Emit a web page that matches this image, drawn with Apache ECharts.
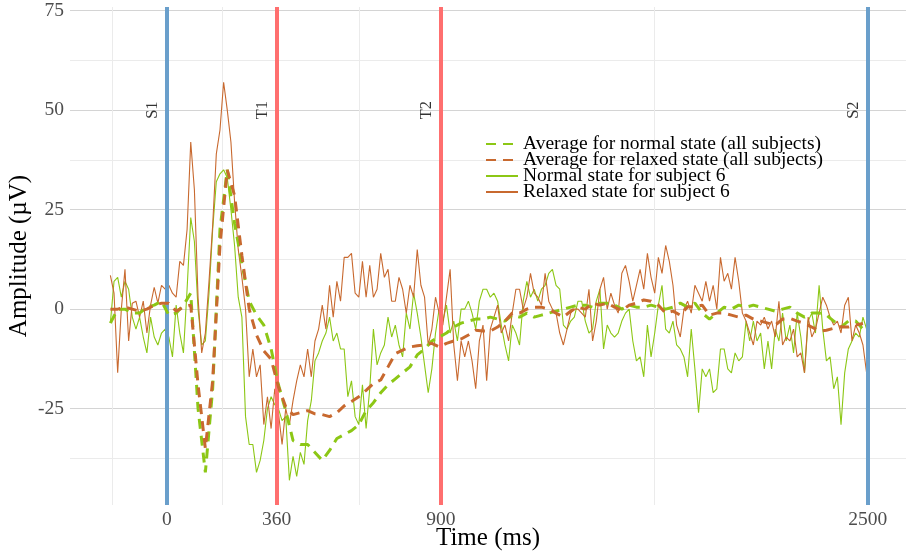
<!DOCTYPE html>
<html><head><meta charset="utf-8">
<script src="https://cdn.jsdelivr.net/npm/echarts@6/dist/echarts.min.js"></script>
<style>html,body{margin:0;padding:0;background:#fff}#c{width:906px;height:553px}</style>
</head><body><div id="c"></div>
<script>
const FONT = '"Liberation Serif", "DejaVu Serif", serif';

const seriesNames = [
  'Average for normal state (all subjects)',
  'Average for relaxed state (all subjects)',
  'Normal state for subject 6',
  'Relaxed state for subject 6'
];
const greenColor = '#8cc715';
const orangeColor = '#c8692f';

const xTickValues = [0, 360, 900, 2302];
const xTickLabels = ['0', '360', '900', '2500'];
const xMinorValues = [-180, 180, 630, 1601];
const yMajorValues = [-25, 0, 25, 50, 75];
const yMinorValues = [-37.5, -12.5, 12.5, 37.5, 62.5];

const eventNames = ['S1', 'T1', 'T2', 'S2'];
const eventTimes = [0, 360, 900, 2302];
const eventColors = ['#6a9fcb', '#ff6f6f', '#ff6f6f', '#6a9fcb'];
const eventLabelAmp = [50, 50, 50, 50];

// sampling of the traces (aligned time axis)
const rawStart = -186, rawStep = 12;
const avgStart = -186, avgStep = 24;

const normalSubj6 = [
-3.5, 7, 8, 3, 7, 5, -2, -5, -2, -7,
-11, -2, -7, -9, -6, -5, -7, -12, 1, -6,
-11, 5, 23, 17, 0, -9, -8, 4, 20, 32,
34, 35, 33, 25, 16, 3, -2, -27, -34, -34,
-41, -38, -33, -25, -22, -24, -25, -28, -27, -43,
-37, -42, -36, -39, -28, -23, -13, -11, -8, -6,
-2, -8, -6, -10, -10, -22, -18, -27, -29, -19,
-30, -20, -5, -14, -11, -9, -2, -7, -4, -9,
-12, -1, -5, 4, -1, -7, -14, -21, -15, -6,
0, -3, 1, -6, -3, -8, 0, 0, 2, -1,
-5, 2, 5, 5, 3, 4, 2, -4, -9, -13,
-4, -6, -9, 2, 7, 3, 5, 2, 5, 6,
9, 10, 6, 5, -4, -5, -3, -2, 2, 2,
-3, -6, -5, 2, 5, -10, -4, -6, -7, -6,
-3, -1, 0, -8, -13, -12, -17, -4, -12, -6,
1, 6, -5, -6, -3, -9, -10, -12, -17, -5,
-15, -26, -15, -17, -15, -21, -20, -10, -10, -15,
-16, -11, -13, -12, -3, -8, -3, -8, -6, -15,
-8, -15, -5, -8, -1, -8, -4, -11, -1, -7,
-16, -3, -1, -6, 6, -5, -13, -12, -20, -17,
-29, -16, -10, -8, -6, -7, -2, -5
];

const relaxedSubj6 = [
8.5, 4, -16, 0, 10, -8, 1.5, 2, -2, 2,
-6, 1, 5.5, 1.5, 6, 5, 6, 4, 3, 12,
11, 20, 42, 30, 3, -11, -6, 7, 21, 39,
45, 57, 50, 42, 27, 15, 8, 0, -17, -10,
-17, -14, -29, -22, -30, -20, -26, -34, -25, -29,
-23, -18, -14, -17, -10, -17, -8, -5, 1, -5,
6, -2, 7, 2, 13, 13, 14, 4, 3, 12,
3, 11, 3, 5, 14, 8, 10, 2, 2, 8,
5, -1, 6, 3, 15, 6, 3, -9, -5, 3,
-1, -4, 3, 10, -9, -18, -8, -12, -8, -13,
-20, -8, -4, -18, -5, -2, 1, -6, -4, -8,
-1, 5, 5, 0, 3, 9, 4, 3, 1, 9,
2, 0, -1, -6, -9, -5, -1, 0, 0, -1,
-2, 5, -8, -3, 5, 8, 0, 4, 1, -1,
9, 11, 7, 2, 6, 10, 5, 14, 8, 4,
13, 9, 16, 12, 6, -4, -7, 0, 2, -1,
6, 4, 2, 7, 2, 6, 0, 13, 7, 9,
5, 13, 7, -1, -3, -6, -9, -3, -4, -2,
-5, -3, -7, 2, -9, -7, -8, -5, -12, -11,
-16, -2, -7, -5, -1, 3, 1, -2, -4, -3,
-6, 1, 3, -8, -4, -6, -9, -16
];

const avgNormal = [
-3.5, 0, 0, -1, -1, 0.5, 1, 2, -1.5, -1,
1, 4, -25, -41, -20, 20, 35, 21.5, 11.5, 2,
-1.5, -4, -10, -19, -25.5, -33, -34, -34, -36, -38,
-35.5, -32.5, -31.5, -30.5, -29, -25.5, -23.5, -21, -19, -17.5,
-16, -14.5, -11.5, -10, -8, -7, -6, -4.5, -3.5, -3,
-2.5, -2.5, -2, -2.5, -3, -1.5, -2, -1, -2, -1.5,
-1, -0.5, 0, 0.5, 1, 1, 0.5, 1.5, 1.5, 1,
0, 1, 0.5, 0.5, 1, 0.5, 0, 0.5, 1.5, 0.5,
1.5, -1, -2.5, -1, 0.5, 0, 1, 0.5, 1, 0.5,
0, -0.5, 0, 0.5, -1, -2, -1, -1, -1.5, -3,
-4.5, -3, -3, -5
];

const avgRelaxed = [
0, 0, 0.5, 0, -0.5, 0, 1, 1.5, 1.5, -0.5,
0.5, 1, -19, -35, -18, 16, 35, 28.5, 13.5, 0,
-6.5, -10.5, -12.6, -19.5, -24.5, -26.5, -26, -25.5, -26.3, -26.5,
-27, -26, -24.3, -23.2, -22, -20.4, -18.7, -17.8, -14.5, -11.2,
-10.3, -9.5, -9.2, -9, -8.6, -9.5, -8.6, -8, -7.5, -6.5,
-5.3, -5.5, -5.5, -4.5, -3, -1, -1, 0, 0.5, 0.5,
0, -1, -2, -0.5, 0.5, 0, 1.5, 1, 1.5, 0.5,
-0.3, 1, 1.5, 2.3, 2, 1, -1, -0.5, -1.5, 0.6,
0.6, 1, -1.5, -1, -1, -1.5, -2, -1.5, -2.5, -3,
-3.5, -4, -2.5, -2.3, -3, -3.6, -4.5, -5.5, -5.3, -4.8,
-4.4, -4.5, -4, -3.6
];

const toPairs = (arr, start, step) => arr.map((v, i) => [start + i * step, v]);

const xMin = -318.6, xMax = 2427.4;
const yMin = -49.2, yMax = 75.9;

const chart = echarts.init(document.getElementById('c'), null, { renderer: 'canvas' });

const tickLabelStyle = { fontFamily: FONT, fontSize: 19.5, color: '#4d4d4d' };

const option = {
  animation: false,
  backgroundColor: '#ffffff',
  grid: { left: 70, right: 0, top: 7, bottom: 48, containLabel: false, outerBoundsMode: 'none' },
  legend: {
    orient: 'vertical',
    left: 480,
    top: 129,
    itemGap: -4,
    itemWidth: 32,
    itemHeight: 10,
    itemStyle: { opacity: 0 },
    textStyle: { fontFamily: FONT, fontSize: 19.5, color: '#000' },
    data: seriesNames
  },
  xAxis: [
    {
      type: 'value', min: xMin, max: xMax, position: 'bottom',
      axisLine: { show: false },
      axisTick: { show: false, customValues: xTickValues },
      axisLabel: { customValues: xTickValues, margin: 5, ...tickLabelStyle,
        formatter: v => xTickLabels[xTickValues.indexOf(v)] },
      splitLine: { show: true, lineStyle: { color: '#d4d4d4', width: 1.1 } },
      name: 'Time (ms)', nameLocation: 'middle', nameGap: 21, nameMoveOverlap: false,
      nameTextStyle: { fontFamily: FONT, fontSize: 25, color: '#000' }
    },
    {
      type: 'value', min: xMin, max: xMax, position: 'top',
      axisLine: { show: false },
      axisTick: { show: false, customValues: xMinorValues },
      axisLabel: { show: false, customValues: xMinorValues },
      splitLine: { show: true, lineStyle: { color: '#ebebeb', width: 1 } }
    }
  ],
  yAxis: [
    {
      type: 'value', min: yMin, max: yMax,
      axisLine: { show: false },
      axisTick: { show: false, customValues: yMajorValues },
      axisLabel: { customValues: yMajorValues, margin: 6, ...tickLabelStyle },
      splitLine: { show: true, lineStyle: { color: '#d4d4d4', width: 1.1 } },
      name: 'Amplitude (µV)', nameLocation: 'middle', nameGap: 38, nameRotate: 90, nameMoveOverlap: false,
      nameTextStyle: { fontFamily: FONT, fontSize: 25, color: '#000' }
    },
    {
      type: 'value', min: yMin, max: yMax, position: 'right',
      axisLine: { show: false },
      axisTick: { show: false, customValues: yMinorValues },
      axisLabel: { show: false, customValues: yMinorValues },
      splitLine: { show: true, lineStyle: { color: '#ebebeb', width: 1 } }
    }
  ],
  series: [
    {
      name: 'events', type: 'line', data: [], z: 1, silent: true,
      markLine: {
        silent: true, symbol: 'none', animation: false,
        label: { show: false },
        data: eventTimes.map((t, k) => ({ xAxis: t, lineStyle: { color: eventColors[k], width: 4, type: 'solid', opacity: 1 } }))
      }
    },
    {
      name: 'eventLabels', type: 'scatter', z: 2, silent: true,
      symbolSize: 1, itemStyle: { color: 'rgba(0,0,0,0)' },
      data: eventTimes.map((t, k) => [t, eventLabelAmp[k], eventNames[k]]),
      label: {
        show: true, position: 'inside', rotate: 90, offset: [0, -14],
        formatter: p => p.data[2],
        fontFamily: FONT, fontSize: 16.5, color: '#000'
      }
    },
    {
      name: seriesNames[2], type: 'line', z: 3, symbol: 'none', showSymbol: false,
      data: toPairs(normalSubj6, rawStart, rawStep),
      lineStyle: { color: greenColor, width: 1.1 }, itemStyle: { color: greenColor }
    },
    {
      name: seriesNames[3], type: 'line', z: 4, symbol: 'none', showSymbol: false,
      data: toPairs(relaxedSubj6, rawStart, rawStep),
      lineStyle: { color: orangeColor, width: 1.1 }, itemStyle: { color: orangeColor }
    },
    {
      name: seriesNames[0], type: 'line', z: 5, symbol: 'none', showSymbol: false,
      data: toPairs(avgNormal, avgStart, avgStep),
      lineStyle: { color: greenColor, width: 3, type: [10, 7] }, itemStyle: { color: greenColor }
    },
    {
      name: seriesNames[1], type: 'line', z: 6, symbol: 'none', showSymbol: false,
      data: toPairs(avgRelaxed, avgStart, avgStep),
      lineStyle: { color: orangeColor, width: 3, type: [10, 7] }, itemStyle: { color: orangeColor }
    }
  ]
};
chart.setOption(option);
</script>
</body></html>
